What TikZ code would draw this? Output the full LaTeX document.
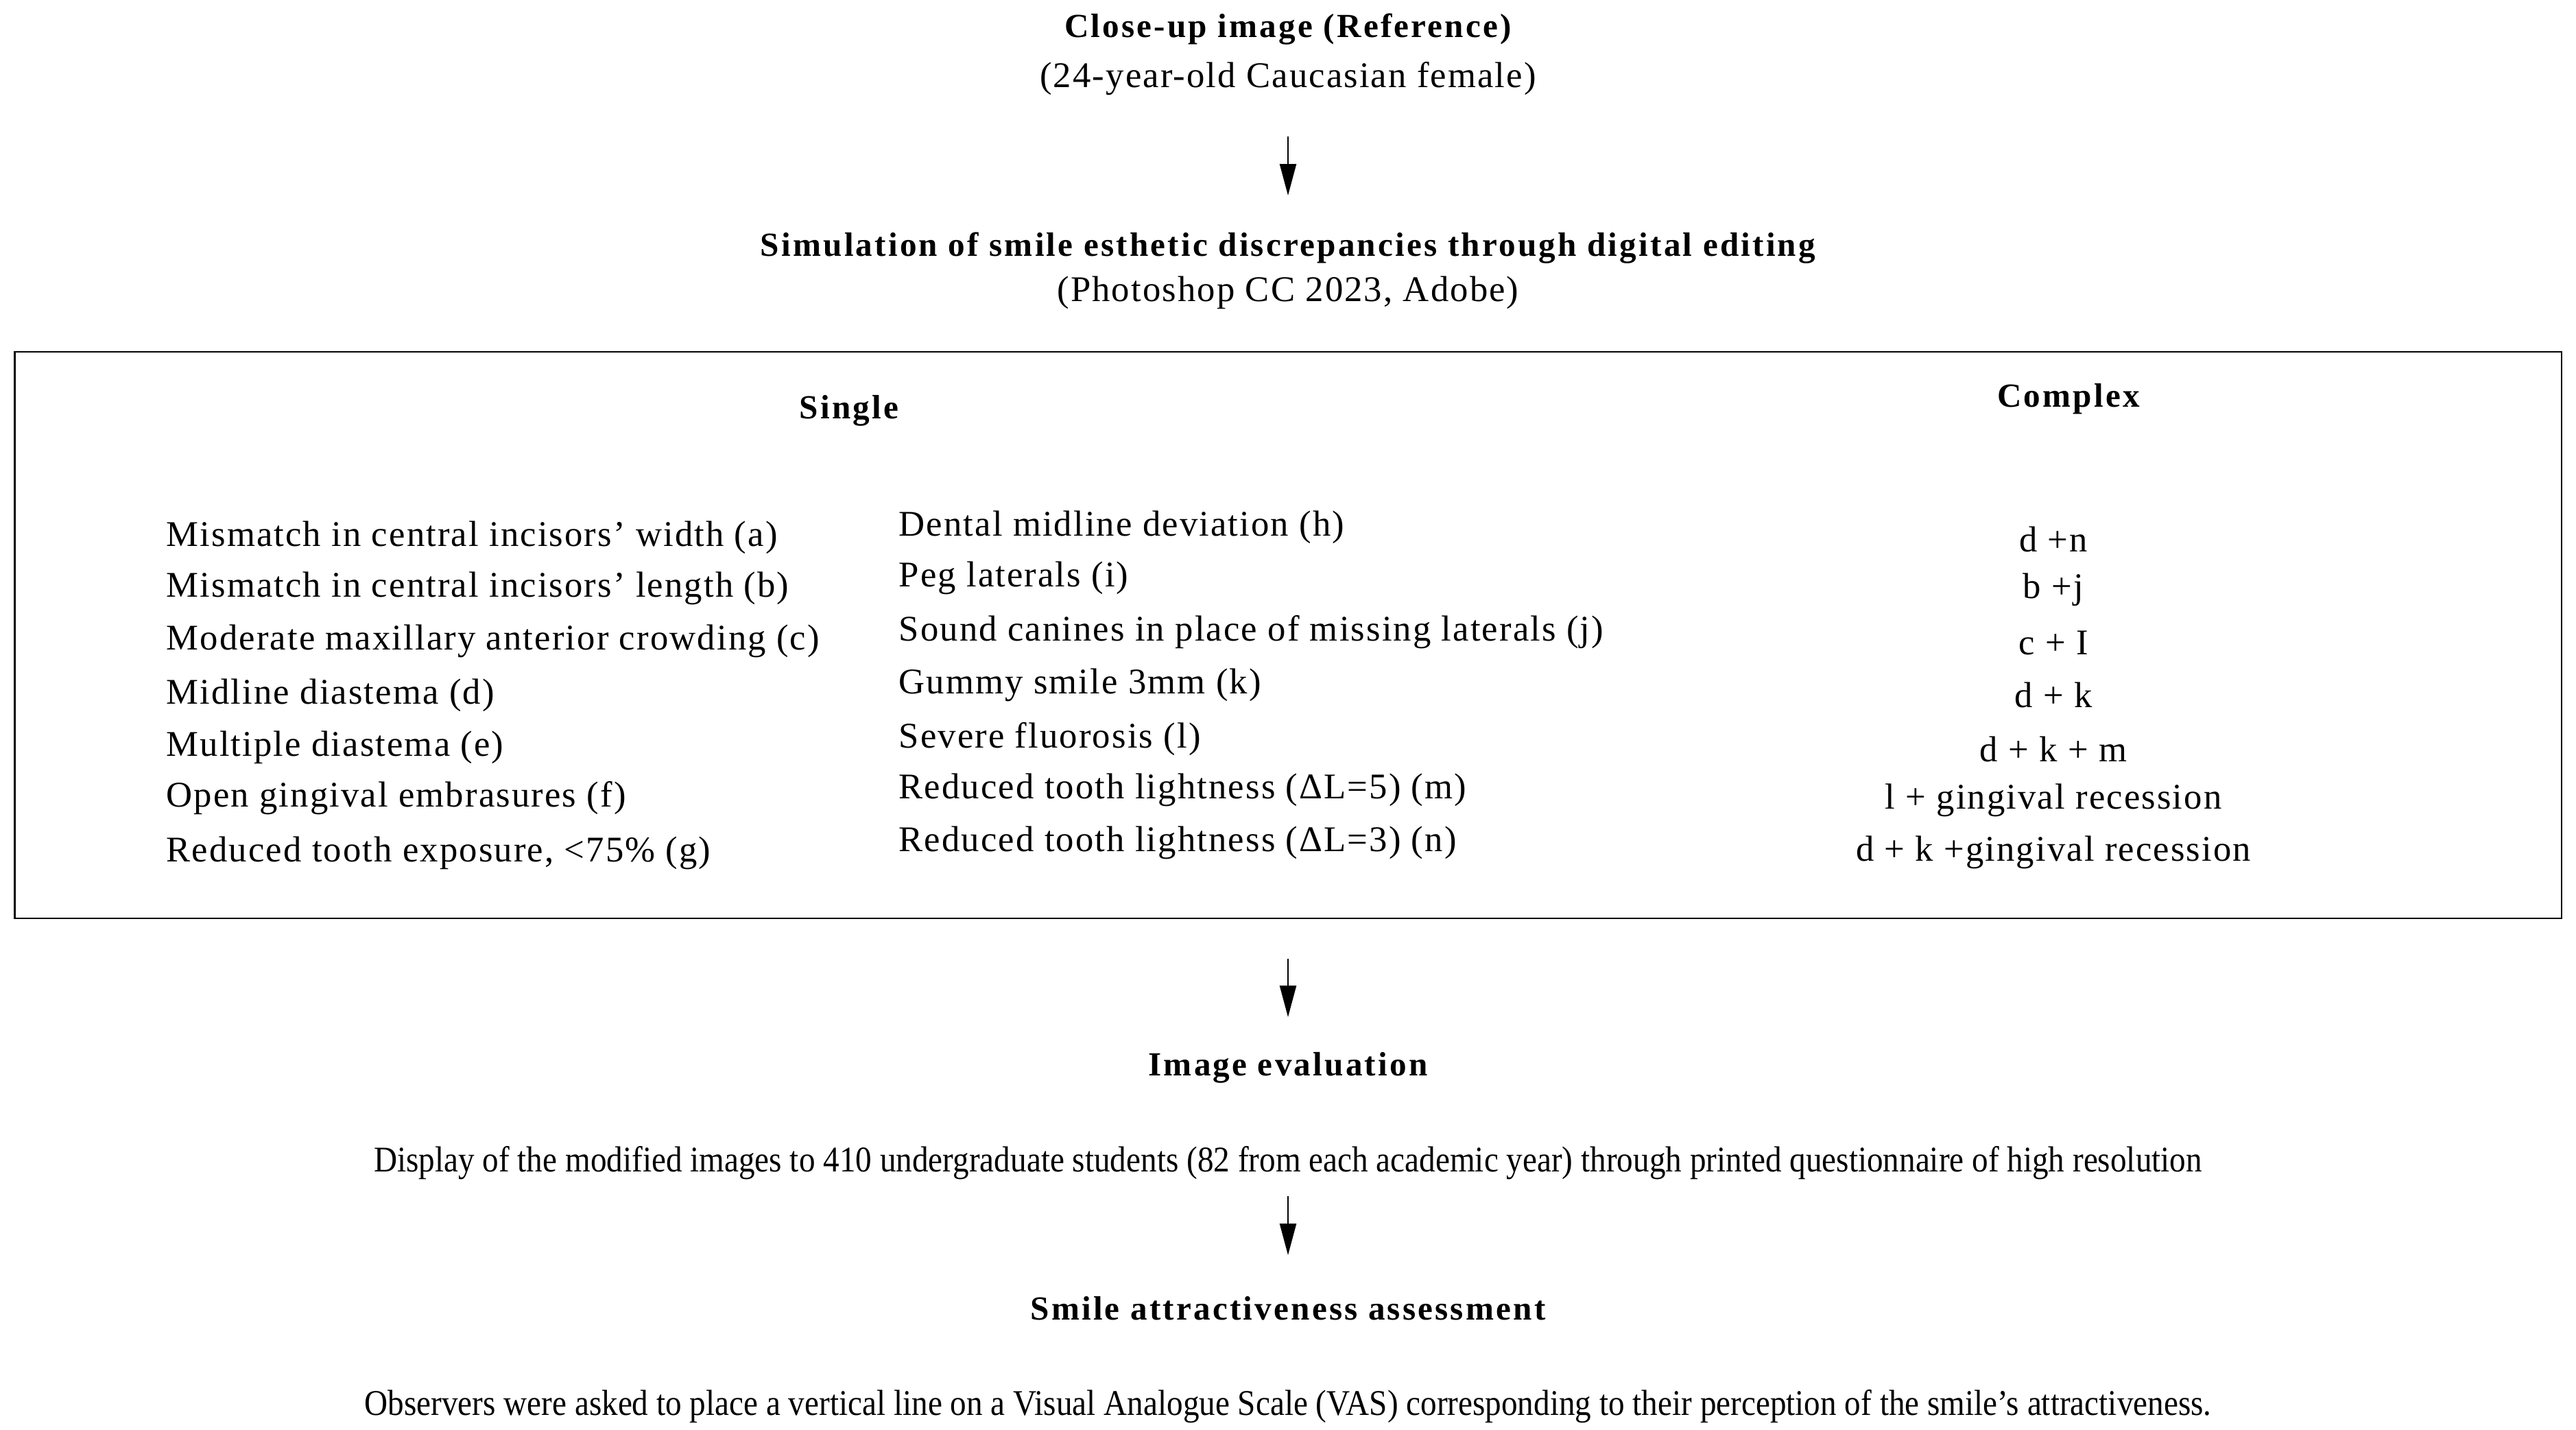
\documentclass[tikz,border=0pt]{standalone}
\usepackage{fontspec}
\setmainfont{Liberation Serif}
\newfontfamily\trackfont{Liberation Serif}[LetterSpace=4]
\newfontfamily\trackboldfont{Liberation Serif Bold}[LetterSpace=6.5]
\newfontfamily\slimfont{Liberation Serif}[FakeStretch=0.895]
\usetikzlibrary{arrows.meta,positioning}

\begin{document}
\begin{tikzpicture}[
  head/.style={inner sep=0pt,font=\trackboldfont\fontsize{14}{17}\selectfont},
  plain/.style={inner sep=0pt,font=\trackfont\fontsize{15}{18}\selectfont},
  item/.style={plain,anchor=west},
  note/.style={inner sep=0pt,font=\slimfont\fontsize{15}{18}\selectfont},
  frame/.style={draw,line width=0.6pt,inner sep=0pt},
  arr/.style={line width=0.7pt,-{Triangle[length=4.6mm,width=2.4mm]}}]
  \useasboundingbox (0,0) rectangle (37.56,-20.84);

  \node[head] (ref) at (18.78,-0.43) {Close-up image (Reference)};
  \node[plain] (refsub) at (18.78,-1.15) {(24-year-old Caucasian female)};
  \node[head] (sim) at (18.78,-3.62) {Simulation of smile esthetic discrepancies through digital editing};
  \node[plain] (simsub) at (18.78,-4.27) {(Photoshop CC 2023, Adobe)};

  % discrepancies panel
  \node[frame, minimum width=37.13cm, minimum height=8.26cm] (panel) at (18.78,-9.26) {};
  \node[head] (single) at (12.38,-5.99) {Single};
  \node[head] (complex) at (30.16,-5.82) {Complex};

  \node[item] (a) at (2.42,-7.835) {Mismatch in central incisors’ width (a)};
  \node[item] (b) at (2.42,-8.578) {Mismatch in central incisors’ length (b)};
  \node[item] (c) at (2.42,-9.344) {Moderate maxillary anterior crowding (c)};
  \node[item] (d) at (2.42,-10.135) {Midline diastema (d)};
  \node[item] (e) at (2.42,-10.90) {Multiple diastema (e)};
  \node[item] (f) at (2.42,-11.64) {Open gingival embrasures (f)};
  \node[item] (g) at (2.42,-12.434) {Reduced tooth exposure, <75\% (g)};

  \node[item] (h) at (13.10,-7.69) {Dental midline deviation (h)};
  \node[item] (i) at (13.10,-8.43) {Peg laterals (i)};
  \node[item] (j) at (13.10,-9.22) {Sound canines in place of missing laterals (j)};
  \node[item] (k) at (13.10,-9.99) {Gummy smile 3mm (k)};
  \node[item] (l) at (13.10,-10.78) {Severe fluorosis (l)};
  \node[item] (m) at (13.10,-11.52) {Reduced tooth lightness (ΔL=5) (m)};
  \node[item] (n) at (13.10,-12.29) {Reduced tooth lightness (ΔL=3) (n)};

  \node[plain] (cx1) at (29.94,-7.86) {d +n};
  \node[plain] (cx2) at (29.94,-8.60) {b +j};
  \node[plain] (cx3) at (29.94,-9.37) {c + I};
  \node[plain] (cx4) at (29.94,-10.13) {d + k};
  \node[plain] (cx5) at (29.94,-10.925) {d + k + m};
  \node[plain] (cx6) at (29.94,-11.67) {l + gingival recession};
  \node[plain] (cx7) at (29.94,-12.43) {d + k +gingival recession};

  % evaluation
  \node[head] (eval) at (18.78,-15.57) {Image evaluation};
  \node[note] (display) at (18.78,-16.96) {Display of the modified images to 410 undergraduate students (82 from each academic year) through printed questionnaire of high resolution};
  \node[head] (assess) at (18.78,-19.08) {Smile attractiveness assessment};
  \node[note] (vas) at (18.78,-20.51) {Observers were asked to place a vertical line on a Visual Analogue Scale (VAS) corresponding to their perception of the smile’s attractiveness.};

  \draw[arr, shorten <=0.84cm, shorten >=0.77cm] (refsub.center) -- (sim.center);
  \draw[arr, shorten <=0.575cm, shorten >=0.74cm] (panel.south) -- (eval.center);
  \draw[arr, shorten <=0.48cm, shorten >=0.78cm] (display.center) -- (assess.center);
\end{tikzpicture}
\end{document}
